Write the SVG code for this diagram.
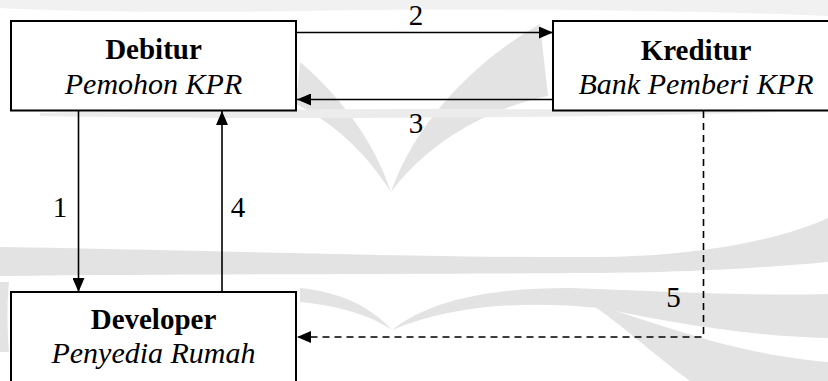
<svg xmlns="http://www.w3.org/2000/svg" width="828" height="381" viewBox="0 0 828 381">
<style>
.bg{fill:#fff}
.wm{fill:#e3e3e3;stroke:none}
.box{fill:#fff;stroke:#000;stroke-width:2}
.t{font-family:"Liberation Serif","Times New Roman",serif;fill:#000;text-anchor:middle}
.b{font-weight:bold;font-size:29px}
.i{font-style:italic;font-size:30px}
.lbl{font-size:29px}
.c{fill:none;stroke:#000;stroke-width:1.6}
.d{stroke-dasharray:7 5}
</style>
<defs>
<marker id="ah" markerUnits="userSpaceOnUse" markerWidth="15" markerHeight="12" refX="14" refY="6" orient="auto">
<path d="M0,0 L14,6 L0,12 Z" fill="#000" stroke="none"/>
</marker>
</defs>
<rect class="bg" x="0" y="0" width="828" height="381"/>
<g id="watermark">
<path class="wm" d="M0,0 H828 V16 C 700,10 500,8 300,11 C 150,13 60,11 0,8 Z" style="fill:#f1f1f1"/>
<path class="wm" d="M300,62 C 335,92 372,135 391,192 C 364,150 332,122 296,104 Z"/>
<path class="wm" d="M540,24 C 490,52 420,110 391,192 C 430,140 490,108 548,96 Z"/>
<path class="wm" d="M40,113 C 250,108 600,108 780,112 C 600,118 250,120 40,116 Z" style="fill:#ececec"/>
<path class="wm" d="M0,247 C 200,250 420,258 600,257 C 700,256 780,240 828,218 L828,262 C 760,268 700,272 600,273 C 420,274 200,274 0,276 Z"/>
<path class="wm" d="M392,330 C 430,300 490,288 570,288 C 670,292 760,296 828,294 L828,338 C 740,336 660,320 600,308 C 520,300 450,306 392,330 Z"/>
<path class="wm" d="M590,304 C 660,322 720,352 828,362 L828,381 L690,381 C 650,352 622,324 590,304 Z"/>
<path class="wm" d="M392,330 C 370,306 340,292 300,288 L300,302 C 340,306 370,315 392,330 Z"/>
<path class="wm" d="M0,282 L9,282 C 7,300 7,330 9,352 L0,352 Z"/>
</g>
<g id="connectors">
<path class="c" d="M296,32.5 H553" marker-end="url(#ah)"/>
<path class="c" d="M553,99.5 H297" marker-end="url(#ah)"/>
<path class="c" d="M78.5,110 V292" marker-end="url(#ah)"/>
<path class="c" d="M222,292 V111" marker-end="url(#ah)"/>
<path class="c d" d="M703.5,111 V337 H297" marker-end="url(#ah)"/>
<text class="t lbl" x="416" y="25">2</text>
<text class="t lbl" x="416" y="133">3</text>
<text class="t lbl" x="60" y="217">1</text>
<text class="t lbl" x="238" y="217">4</text>
<text class="t lbl" x="673.5" y="307">5</text>
</g>
<g id="debitur">
<rect class="box" x="11" y="21" width="285" height="89.5"/>
<text class="t b" x="153.5" y="59">Debitur</text>
<text class="t i" x="153.5" y="94">Pemohon KPR</text>
</g>
<g id="kreditur">
<rect class="box" x="553" y="21" width="278" height="89.5"/>
<text class="t b" x="696" y="60">Kreditur</text>
<text class="t i" x="696" y="94">Bank Pemberi KPR</text>
</g>
<g id="developer">
<rect class="box" x="11" y="292" width="285" height="95"/>
<text class="t b" x="153.5" y="329">Developer</text>
<text class="t i" x="153.5" y="363">Penyedia Rumah</text>
</g>
</svg>
